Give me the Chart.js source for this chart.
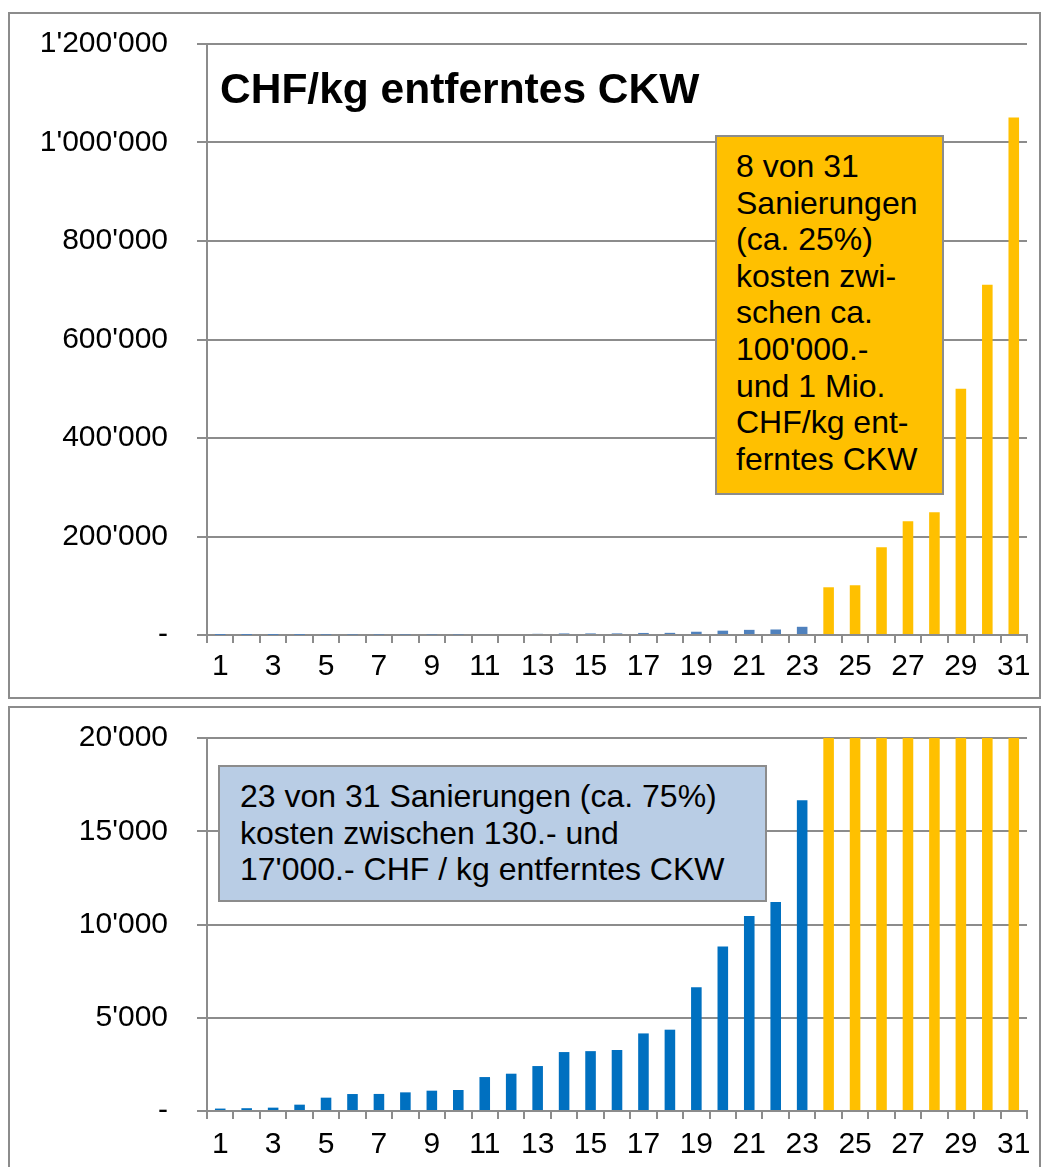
<!DOCTYPE html>
<html>
<head>
<meta charset="utf-8">
<script src="https://cdn.jsdelivr.net/npm/chart.js@4.4.1/dist/chart.umd.min.js"></script>
<style>
  body {
    margin: 0;
    width: 1042px;
    height: 1167px;
    overflow: hidden;
    position: relative;
    background: #fff;
    font-family: "Liberation Sans", Arial, sans-serif;
    color: #000;
  }
  .frame {
    position: absolute;
    left: 8px;
    width: 1033px;
    border: 2px solid #8c8c8c;
    box-sizing: border-box;
  }
  #topFrame { top: 12px; height: 687px; }
  #bottomFrame { top: 706px; height: 480px; }
  .frame canvas { display: block; }
  .title {
    position: absolute;
    left: 220px;
    top: 68px;
    font-size: 42.5px;
    line-height: 42px;
    font-weight: bold;
    white-space: nowrap;
  }
  .note {
    position: absolute;
    border: 2px solid #8c8c8c;
    box-sizing: border-box;
    font-size: 32px;
    line-height: 36.6px;
    white-space: nowrap;
  }
  #noteHigh {
    left: 715px; top: 135px; width: 229px; height: 360px;
    background: #ffc000;
    padding: 11px 0 0 19px;
  }
  #noteLow {
    left: 218px; top: 765px; width: 549px; height: 137px;
    background: #b9cde5;
    padding: 11px 0 0 20px;
  }
</style>
</head>
<body>
<div class="frame" id="topFrame"><canvas id="overviewChart"></canvas></div>
<div class="frame" id="bottomFrame"><canvas id="detailChart"></canvas></div>

<div class="title">CHF/kg entferntes CKW</div>
<div class="note" id="noteHigh">8 von 31<br>Sanierungen<br>(ca. 25%)<br>kosten zwi-<br>schen ca.<br>100'000.-<br>und 1 Mio.<br>CHF/kg ent-<br>ferntes CKW</div>
<div class="note" id="noteLow">23 von 31 Sanierungen (ca. 75%)<br>kosten zwischen 130.- und<br>17'000.- CHF / kg entferntes CKW</div>

<script>
const sites = ["1", "2", "3", "4", "5", "6", "7", "8", "9", "10", "11", "12", "13", "14", "15", "16",
  "17", "18", "19", "20", "21", "22", "23", "24", "25", "26", "27", "28", "29", "30", "31"];

// CHF per kg removed CKW, sites 1-23
const lowCost = [130, 150, 180, 340, 715, 910, 915, 1000, 1090, 1125, 1820, 2000,
  2410, 3160, 3210, 3270, 4160, 4360, 6640, 8820, 10460, 11210, 16660];

// sites 24-31
const highCost = [96900, 101000, 178000, 231000, 249000, 500000, 711000, 1051000];

const overviewTicks = [0, 200000, 400000, 600000, 800000, 1000000, 1200000];
const detailTicks = [0, 5000, 10000, 15000, 20000];

const ORANGE = "#ffc000";
const GRID = "#8c8c8c";

Chart.defaults.font.family = '"Liberation Sans", Arial, sans-serif';
Chart.defaults.font.size = 30;
Chart.defaults.color = "#000";

function swissNumber(value) {
  if (value === 0) return "-";
  return String(Math.round(value)).replace(/\B(?=(\d{3})+(?!\d))/g, "'");
}

function makeChart(canvasId, opts) {
  const canvas = document.getElementById(canvasId);
  canvas.width = opts.width;
  canvas.height = opts.height;
  const values = lowCost.concat(highCost);
  const colors = values.map((v, i) => (i < lowCost.length ? opts.lowColor : ORANGE));

  return new Chart(canvas, {
    type: "bar",
    data: {
      labels: sites,
      datasets: [{
        data: values,
        backgroundColor: colors,
        borderWidth: 0,
        barPercentage: 0.4,
        categoryPercentage: 1,
        clip: 0,
      }],
    },
    options: {
      responsive: false,
      animation: false,
      events: [],
      layout: { padding: { top: 30, right: 12, left: 0, bottom: 0 } },
      plugins: {
        legend: { display: false },
        tooltip: { enabled: false },
      },
      scales: {
        x: {
          offset: true,
          grid: {
            offset: true,
            drawOnChartArea: false,
            drawTicks: true,
            tickLength: 8,
            color: GRID,
            lineWidth: 2,
          },
          border: { display: true, color: GRID, width: 2 },
          ticks: {
            autoSkip: false,
            maxRotation: 0,
            padding: opts.xPad,
            callback(value, index) {
              return index % 2 === 0 ? sites[index] : "";
            },
          },
          afterFit(scale) {
            scale.height = opts.xHeight;
          },
        },
        y: {
          min: 0,
          max: opts.ticks[opts.ticks.length - 1],
          afterBuildTicks(scale) {
            scale.ticks = opts.ticks.map((v) => ({ value: v }));
          },
          grid: {
            color: GRID,
            lineWidth: 2,
            drawTicks: true,
            tickLength: 10,
          },
          border: { display: true, color: GRID, width: 2 },
          ticks: {
            padding: 29,
            callback(value) {
              return swissNumber(value);
            },
          },
          afterFit(scale) {
            // fixed axis width; label overflow is covered by layout padding
            scale.width = 197;
            scale.paddingTop = 0;
            scale.paddingBottom = 0;
          },
        },
      },
    },
  });
}

makeChart("overviewChart", {
  width: 1029, height: 683, xHeight: 62, xPad: 6,
  ticks: overviewTicks, lowColor: "#4f81bd",
});

makeChart("detailChart", {
  width: 1029, height: 476, xHeight: 73, xPad: 8,
  ticks: detailTicks, lowColor: "#0070c0",
});
</script>
</body>
</html>
